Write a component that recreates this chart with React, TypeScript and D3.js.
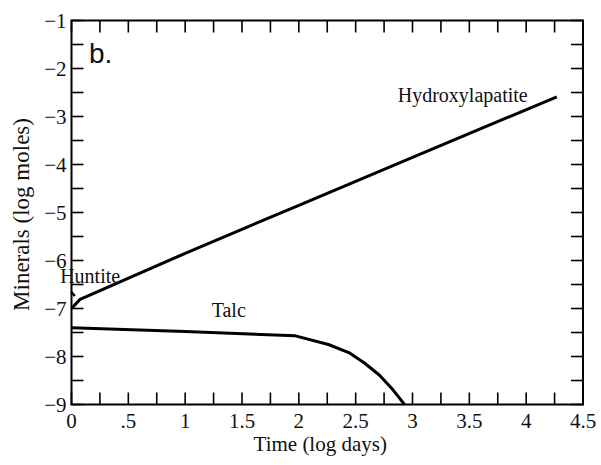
import React from 'react';
import * as d3 from 'd3';

// values (x: log days, y: log moles)
const hydroxylapatite: [number, number][] = [
  [0, -7.0], [0.075, -6.81], [1, -5.85], [2, -4.85], [3, -3.85], [4.27, -2.59],
];
const talc: [number, number][] = [
  [0, -7.4], [1, -7.48], [1.97, -7.57], [2.26, -7.75], [2.45, -7.93],
  [2.58, -8.14], [2.71, -8.39], [2.83, -8.7], [2.93, -9.0],
];
const huntite: [number, number][] = [
  [-0.005, -6.65], [0.03, -6.74],
];

const xTickLabels = ['0', '.5', '1', '1.5', '2', '2.5', '3', '3.5', '4', '4.5'];
const yTickValues = [-1, -2, -3, -4, -5, -6, -7, -8, -9];

const annotations = [
  { text: 'Hydroxylapatite', x: 2.87, y: -2.7 },
  { text: 'Talc', x: 1.233, y: -7.17 },
  { text: 'Huntite', x: -0.1, y: -6.47 },
];

const W = 601;
const H = 465;
const m = { left: 71.5, right: 18, top: 20.5, bottom: 60.5 };
const TICK = 12;
const serif = '"Liberation Serif", "Times New Roman", serif';

export default function App() {
  const x = d3.scaleLinear().domain([0, 4.5]).range([m.left, W - m.right]);
  const y = d3.scaleLinear().domain([-9, -1]).range([H - m.bottom, m.top]);

  const line = d3.line<[number, number]>()
    .x(d => x(d[0]))
    .y(d => y(d[1]));

  const xMinor = d3.range(0, 4.5001, 0.25);
  const yMinor = d3.range(-9, -0.999, 0.5);
  const [x0, x1] = x.range();
  const [y0, y1] = y.range();

  return (
    <svg width={W} height={H} style={{ position: 'absolute', left: 0, top: 0, background: '#fff' }}>
      {/* ticks, all four sides, pointing inward */}
      <g stroke="#000" strokeWidth={1.6}>
        {xMinor.map(v => (
          <g key={'xt' + v}>
            <line x1={x(v)} x2={x(v)} y1={y0} y2={y0 - TICK} />
            <line x1={x(v)} x2={x(v)} y1={y1} y2={y1 + TICK} />
          </g>
        ))}
        {yMinor.map(v => (
          <g key={'yt' + v}>
            <line x1={x0} x2={x0 + TICK} y1={y(v)} y2={y(v)} />
            <line x1={x1} x2={x1 - TICK} y1={y(v)} y2={y(v)} />
          </g>
        ))}
      </g>
      <rect x={x0} y={y1} width={x1 - x0} height={y0 - y1} fill="none" stroke="#000" strokeWidth={2} />

      {/* tick labels */}
      <g fontFamily={serif} fontSize={21} fill="#111">
        {xTickLabels.map((t, i) => (
          <text key={t} x={x(i * 0.5)} y={y0 + 23.5} textAnchor="middle">{t}</text>
        ))}
        {yTickValues.map(v => (
          <text key={v} x={x0 - 5} y={y(v) + 7} textAnchor="end">{'\u2212' + Math.abs(v)}</text>
        ))}
      </g>

      {/* axis titles */}
      <text x={(x0 + x1) / 2 - 7} y={451} textAnchor="middle" fontFamily={serif} fontSize={21} fill="#111">
        Time (log days)
      </text>
      <text transform={`translate(29,${(y0 + y1) / 2 + 2}) rotate(-90)`} textAnchor="middle"
        fontFamily={serif} fontSize={23} fill="#111">
        Minerals (log moles)
      </text>

      {/* curves */}
      <g fill="none" stroke="#000" strokeWidth={3} strokeLinejoin="round">
        <path d={line(hydroxylapatite) ?? ''} />
        <path d={line(talc) ?? ''} />
        <path d={line(huntite) ?? ''} strokeWidth={2.5} />
      </g>

      {annotations.map(a => (
        <text key={a.text} x={x(a.x)} y={y(a.y)} fontFamily={serif} fontSize={20} fill="#111">
          {a.text}
        </text>
      ))}

      <text x={89} y={62.5} fontFamily='"Liberation Sans", Arial, sans-serif' fontSize={28} fill="#111">b.</text>
    </svg>
  );
}
